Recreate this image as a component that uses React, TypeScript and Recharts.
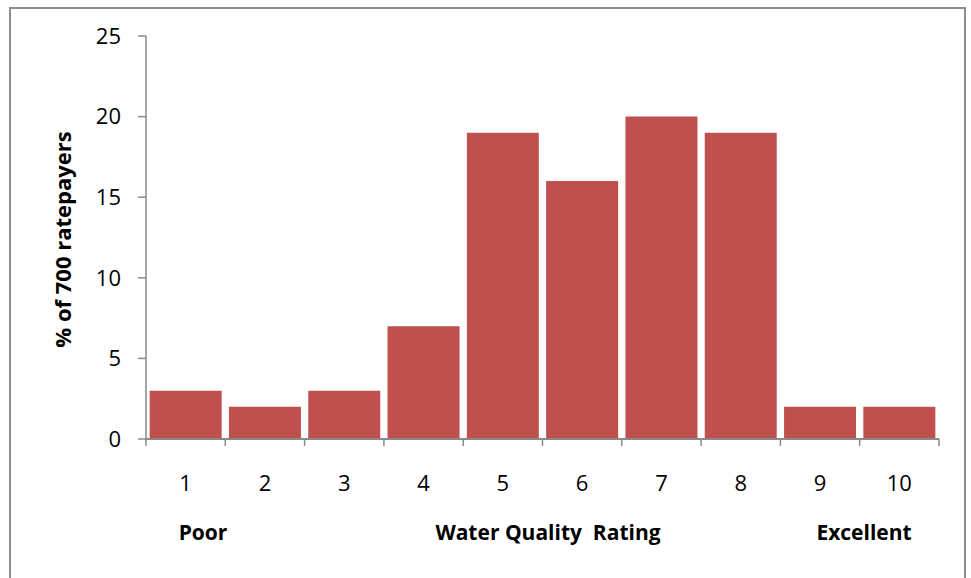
import React from 'react';
import { BarChart, Bar, XAxis, YAxis } from 'recharts';

// Share of surveyed ratepayers giving each water quality rating
const ratings = ['1', '2', '3', '4', '5', '6', '7', '8', '9', '10'];
const percentages = [3, 2, 3, 7, 19, 16, 20, 19, 2, 2];
const yTicks = [0, 5, 10, 15, 20, 25];

const data = ratings.map((r, i) => ({ rating: r, pct: percentages[i] }));

const W = 971;
const H = 578;
const M = { top: 36, right: 32, bottom: 99, left: 86 };
const Y_AXIS_W = 60;
const plotLeft = M.left + Y_AXIS_W;
const plotRight = W - M.right;
const band = (plotRight - plotLeft) / ratings.length;

const FONT = '"Open Sans", "Noto Sans", sans-serif';
const AXIS = '#898989';

// Category tick: label at centre, tick marks on band boundaries
const XTick = (props: any) => {
  const { x, y, payload, index } = props;
  const half = band / 2;
  const axisY = H - M.bottom - 40;
  return (
    <g>
      <line x1={x - half} x2={x - half} y1={axisY} y2={axisY + 7} stroke={AXIS} strokeWidth={1.5} />
      {index === ratings.length - 1 && (
        <line x1={x + half} x2={x + half} y1={axisY} y2={axisY + 7} stroke={AXIS} strokeWidth={1.5} />
      )}
      <text x={x} y={axisY + 52} textAnchor="middle" fontSize={22} fill="#000" fontFamily={FONT}>
        {payload.value}
      </text>
    </g>
  );
};

const YLabel = (props: any) => {
  const cy = (props.viewBox?.y ?? M.top) + (props.viewBox?.height ?? 0) / 2 + 2;
  return (
    <text
      x={62}
      y={cy}
      transform={`rotate(-90 62 ${cy})`}
      textAnchor="middle"
      dominantBaseline="central"
      fontSize={22}
      fontWeight="bold"
      fill="#000"
      fontFamily={FONT}
    >
      % of 700 ratepayers
    </text>
  );
};

export default function App() {
  return (
    <div style={{ position: 'absolute', left: 0, top: 0, width: W, height: H, background: '#fff', overflow: 'hidden' }}>
      <div
        style={{
          position: 'absolute',
          left: 9,
          top: 7,
          width: 957,
          height: 600,
          border: '2px solid #8c8c8c',
          boxSizing: 'border-box',
        }}
      />
      <div style={{ position: 'absolute', left: 0, top: 0 }}>
        <BarChart width={W} height={H} data={data} margin={M} barCategoryGap="4.6%">
          <XAxis
            dataKey="rating"
            tickLine={false}
            axisLine={{ stroke: AXIS, strokeWidth: 2 }}
            tick={<XTick />}
            height={40}
            interval={0}
          />
          <YAxis
            width={Y_AXIS_W}
            domain={[0, 25]}
            ticks={yTicks}
            interval={0}
            axisLine={{ stroke: AXIS, strokeWidth: 1.5 }}
            tickLine={{ stroke: AXIS, strokeWidth: 1.5 }}
            tickSize={8}
            tickMargin={17}
            tick={{ fontSize: 22, fill: '#000', fontFamily: FONT }}
            label={<YLabel />}
          />
          <Bar dataKey="pct" fill="#C0504D" isAnimationActive={false} />
        </BarChart>
      </div>
      <svg
        width={W}
        height={H}
        style={{ position: 'absolute', left: 0, top: 0, pointerEvents: 'none' }}
      >
        <g fontFamily={FONT} fontWeight="bold" fontSize={21} fill="#000" textAnchor="middle">
          <text x={203} y={540}>Poor</text>
          <text x={548} y={540} style={{ whiteSpace: 'pre' }}>Water Quality  Rating</text>
          <text x={864} y={540}>Excellent</text>
        </g>
      </svg>
    </div>
  );
}
